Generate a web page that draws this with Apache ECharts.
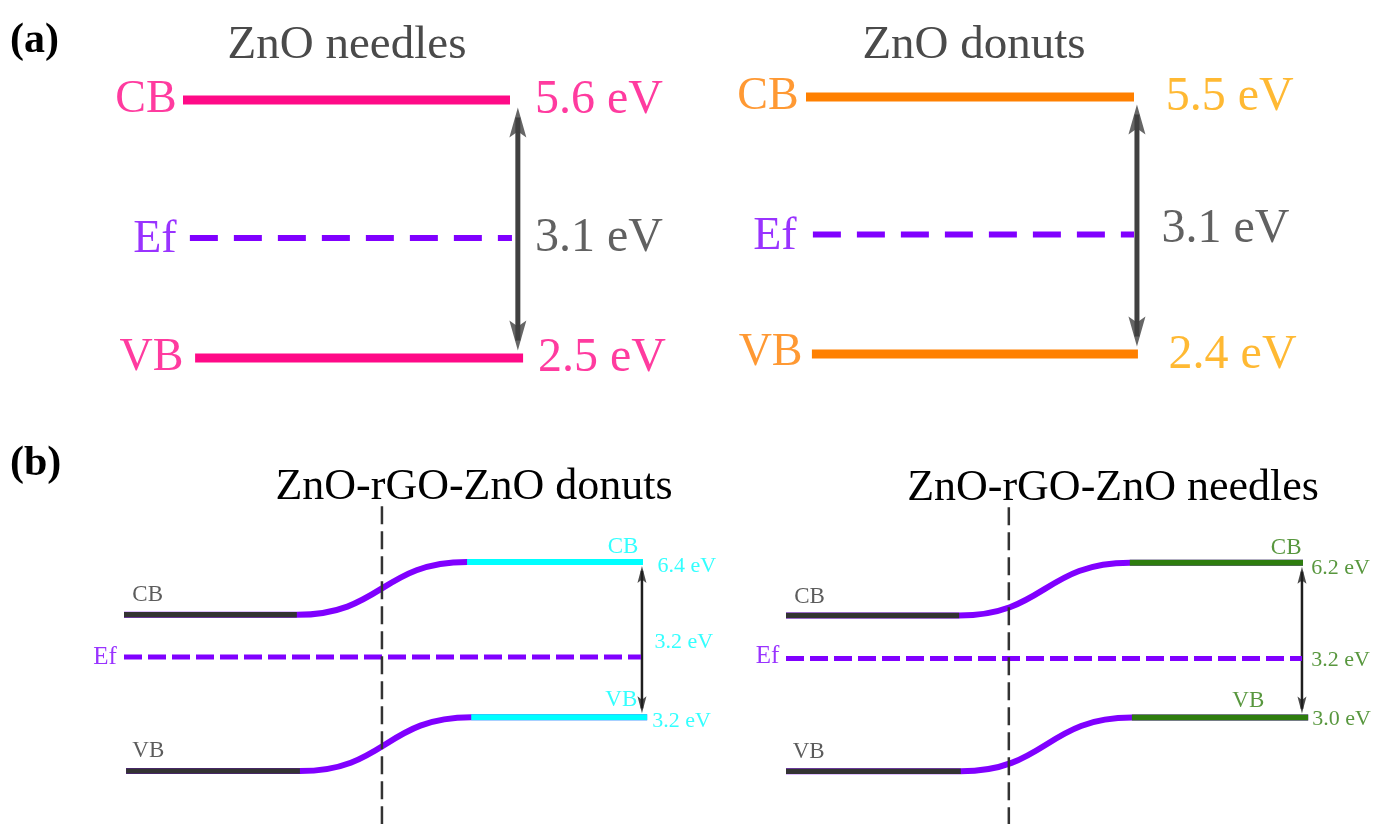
<!DOCTYPE html>
<html><head><meta charset="utf-8">
<script src="https://cdn.jsdelivr.net/npm/echarts@6/dist/echarts.min.js"></script>
<style>html,body{margin:0;padding:0;background:#fff}#c{width:1376px;height:824px}</style>
</head><body><div id="c"></div>
<script>
// ---------------- data (energies in eV) ----------------
const panelTags   = ['(a)', '(b)'];
const panelTitles = ['ZnO needles', 'ZnO donuts', 'ZnO-rGO-ZnO donuts', 'ZnO-rGO-ZnO needles'];
const levelNames  = ['CB', 'Ef', 'VB'];
const cbLevels    = [5.6, 5.5, 6.4, 6.2];      // conduction band edge (ZnO side)
const vbLevels    = [2.5, 2.4, 3.2, 3.0];      // valence band edge
const gapValues   = [3.1, 3.1, 3.2, 3.2];      // band gap shown by the arrow
const efLevels    = [3.94, 3.84, 4.44, 4.22];  // Fermi level as drawn (estimated)
const junctionCB  = [5.31, 5.11];              // (b) CB on the left of the junction (estimated)
const junctionVB  = [2.09, 1.89];              // (b) VB on the left of the junction (estimated)

// ---------------- layout / style ----------------
const SERIF = '"Liberation Serif", "Times New Roman", serif';
const COL = { pink:'#ff0a87', purple:'#8000ff', orange:'#ff8000', gold:'#ffa800',
              cyan:'#00ffff', green:'#2e7d0e', dark:'#333333', arrowA:'#404040',
              arrowB:'#1e1e1e', gapText:'#3a3a3a', title:'#4a4a4a' };
const HEAD = 'path://M0,0L1,3L0,2.4L-1,3Z';
const XR = [-10, 110];                        // common horizontal position scale (a.u.)
const fmt = v => v.toFixed(1) + ' eV';

// plot box of each panel: origin = pixel where x=0, u = pixels per unit, y-range mapped to [top, top+height]
const panels = [
  { box:{origin:183, u:3.27, top:66.72, height:332.8}, y:[2, 6], band:COL.pink, val:COL.pink,
    cb:[0,100], ef:[2.1,100.6], vb:[3.7,104], arrowX:102.4,
    nameX:[-1.8,-1.8,0.3], nameDy:[0,2,0], valX:[107.5,107.5,108.4], valDy:[0,0,0] },
  { box:{origin:806, u:3.28, top:63.84, height:331.6}, y:[1.9, 5.9], band:COL.orange, val:COL.gold,
    cb:[0,100], ef:[2.1,100], vb:[1.8,101.2], arrowX:100.9,
    nameX:[-2.1,-2.7,-0.9], nameDy:[0,2,-1], valX:[109.5,108.2,110.4], valDy:[0,-5,1] },
  { box:{origin:124, u:5.19, top:503.75, height:325.875}, y:[1, 7.6], band:COL.cyan, val:COL.cyan,
    cbL:[0,33.3], cbR:[66.1,100], vbL:[0.4,33.9], vbR:[66.9,100.8], ef:[0,99.6], arrowX:99.8,
    divX:49.7, divY:[7.55, 1],
    leftNameX:[1.5,1.5], leftNameDy:[-20,-20.5], rightNameX:[99.2,99.0], rightNameDy:[-15.5,-17],
    efNameX:-1.3, efNameDy:0, valX:[102.7,102.1,101.7], valDy:[4,-15,4] },
  { box:{origin:786, u:5.17, top:504.75, height:325.875}, y:[0.8, 7.4], band:COL.green, val:COL.green,
    cbL:[0,33.5], cbR:[66.5,100], vbL:[0,33.8], vbR:[66.9,101], ef:[0,99.8], arrowX:99.8,
    divX:43.1, divY:[7.35, 0.8],
    leftNameX:[1.5,1.2], leftNameDy:[-19,-19.5], rightNameX:[99.8,92.6], rightNameDy:[-15,-17],
    efNameX:-1.2, efNameDy:-2, valX:[101.5,101.5,101.7], valDy:[5,2,2] }
];

const grids = [], xAxes = [], yAxes = [], series = [];
panels.forEach((p, i) => {
  const b = p.box;
  grids.push({ left:b.origin + XR[0] * b.u, width:(XR[1] - XR[0]) * b.u, top:b.top, height:b.height, containLabel:false });
  xAxes.push({type:'value', gridIndex:i, min:XR[0], max:XR[1], show:false});
  yAxes.push({type:'value', gridIndex:i, min:p.y[0], max:p.y[1], show:false});
});
const pxPerEv = p => p.box.height / (p.y[1] - p.y[0]);

function seg(i, xs, y, color, width, type, z) {
  return { type:'line', xAxisIndex:i, yAxisIndex:i, data:[[xs[0], y], [xs[1], y]],
           symbol:'none', clip:false, silent:true, animation:false, z:z || 3,
           lineStyle:{color:color, width:width, type:type || 'solid', cap:'butt'} };
}
function vline(i, x, yTop, yBot, color, width, type, z) {
  return { type:'line', xAxisIndex:i, yAxisIndex:i, data:[[x, yTop], [x, yBot]],
           symbol:'none', clip:false, silent:true, animation:false, z:z,
           lineStyle:{color:color, width:width, type:type || 'solid', cap:'butt'} };
}
function labelSeries(i, items) {
  return { type:'scatter', xAxisIndex:i, yAxisIndex:i, symbolSize:1, clip:false, silent:true,
           animation:false, z:10, itemStyle:{color:'rgba(0,0,0,0)'},
           data: items.map(t => ({ value:[t.x, t.y],
             label:{ show:true, formatter:t.text, position:t.pos, distance:0, offset:[0, t.dy || 0],
                     color:t.color, fontSize:t.size, fontFamily:SERIF } })) };
}
// double-headed gap arrow: heads whose tips sit just inside the band lines, shaft hidden inside the heads
function gapArrow(i, x, top, bottom, color, width, head, edge, tuck) {
  const d = head[1] / 2 + edge;
  const e = (edge + tuck) / pxPerEv(panels[i]);
  return [
    vline(i, x, top - e, bottom + e, color, width, 'solid', 1),
    { type:'scatter', xAxisIndex:i, yAxisIndex:i, clip:false, silent:true, animation:false, z:4,
      symbol:HEAD, symbolSize:head, itemStyle:{color:color},
      data:[ {value:[x, top], symbolRotate:0, symbolOffset:[0, d]},
             {value:[x, bottom], symbolRotate:180, symbolOffset:[0, -d]} ] }
  ];
}

// ---- panel (a): isolated ZnO ----
[0, 1].forEach(i => {
  const p = panels[i];
  series.push(seg(i, p.cb, cbLevels[i], p.band, 9, 'solid', 3));
  series.push(seg(i, p.vb, vbLevels[i], p.band, 9, 'solid', 3));
  series.push(seg(i, p.ef, efLevels[i], COL.purple, 6, [28, 16], 2));
  series.push(...gapArrow(i, p.arrowX, cbLevels[i], vbLevels[i], COL.arrowA, 5, [17, 30], 7.5, 10));
  const lv = [cbLevels[i], efLevels[i], vbLevels[i]];
  const nameCol = [p.band, COL.purple, p.band];
  const items = [];
  levelNames.forEach((n, k) => items.push({x:p.nameX[k], y:lv[k], text:n, pos:'left', dy:p.nameDy[k], color:nameCol[k], size:46}));
  const vals = [fmt(cbLevels[i]), fmt(gapValues[i]), fmt(vbLevels[i])];
  const valCol = [p.val, COL.gapText, p.val];
  vals.forEach((t, k) => items.push({x:p.valX[k], y:lv[k], text:t, pos:'right', dy:p.valDy[k], color:valCol[k], size:48}));
  series.push(labelSeries(i, items));
});

// ---- panel (b): ZnO-rGO-ZnO junctions ----
[2, 3].forEach(i => {
  const p = panels[i], j = i - 2;
  const bend = (xl, xr, yl, yr) => ({ type:'line', xAxisIndex:i, yAxisIndex:i,
      data:[[xl[0], yl], [xl[1], yl], [xr[0], yr], [xr[1], yr]],
      smooth:0.5, smoothMonotone:'x', symbol:'none', clip:false, silent:true, animation:false, z:2,
      lineStyle:{color:COL.purple, width:6, cap:'butt'} });
  series.push(bend(p.cbL, p.cbR, junctionCB[j], cbLevels[i]));
  series.push(bend(p.vbL, p.vbR, junctionVB[j], vbLevels[i]));
  series.push(seg(i, p.cbL, junctionCB[j], COL.dark, 5.5));
  series.push(seg(i, p.vbL, junctionVB[j], COL.dark, 5.5));
  series.push(seg(i, p.cbR, cbLevels[i], p.band, 6));
  series.push(seg(i, p.vbR, vbLevels[i], p.band, 6));
  series.push(seg(i, p.ef, efLevels[i], COL.purple, 5, [18, 6], 2));
  series.push(...gapArrow(i, p.arrowX, cbLevels[i], vbLevels[i], COL.arrowB, 2.5, [9, 17], 4, 5));
  // interface divider
  series.push(vline(i, p.divX, p.divY[0], p.divY[1], '#333', 2.5, [18, 7], 20));
  const items = [
    {x:p.leftNameX[0], y:junctionCB[j], text:levelNames[0], pos:'right', dy:p.leftNameDy[0], color:COL.dark, size:23},
    {x:p.leftNameX[1], y:junctionVB[j], text:levelNames[2], pos:'right', dy:p.leftNameDy[1], color:COL.dark, size:23},
    {x:p.rightNameX[0], y:cbLevels[i], text:levelNames[0], pos:'left', dy:p.rightNameDy[0], color:p.band, size:23},
    {x:p.rightNameX[1], y:vbLevels[i], text:levelNames[2], pos:'left', dy:p.rightNameDy[1], color:p.band, size:23},
    {x:p.efNameX, y:efLevels[i], text:levelNames[1], pos:'left', dy:p.efNameDy, color:COL.purple, size:25},
    {x:p.valX[0], y:cbLevels[i], text:fmt(cbLevels[i]), pos:'right', dy:p.valDy[0], color:p.val, size:22},
    {x:p.valX[1], y:efLevels[i], text:fmt(gapValues[i]), pos:'right', dy:p.valDy[1], color:p.val, size:22},
    {x:p.valX[2], y:vbLevels[i], text:fmt(vbLevels[i]), pos:'right', dy:p.valDy[2], color:p.val, size:22}
  ];
  series.push(labelSeries(i, items));
});

// ---- titles ----
function txt(text, x, y, size, color, weight, align) {
  return { type:'text', x:x, y:y, silent:true, z:30,
    style:{ text:text, font:(weight || 'normal') + ' ' + size + 'px ' + SERIF, fill:color,
            align:align || 'left', verticalAlign:'middle', textAlign:align || 'left', textVerticalAlign:'middle' } };
}
const graphic = [
  txt(panelTags[0], 10, 41, 42, '#000', 'bold'),
  txt(panelTags[1], 10, 464, 42, '#000', 'bold'),
  txt(panelTitles[0], 347, 46, 47, COL.title, 'normal', 'center'),
  txt(panelTitles[1], 974, 46, 47, COL.title, 'normal', 'center'),
  txt(panelTitles[2], 474, 487, 44, '#000', 'normal', 'center'),
  txt(panelTitles[3], 1113, 488, 44, '#000', 'normal', 'center')
];

const chart = echarts.init(document.getElementById('c'), null, {renderer:'canvas'});
chart.setOption({ animation:false, backgroundColor:'#fff', grid:grids, xAxis:xAxes, yAxis:yAxes,
                  series:series, graphic:graphic });
</script></body></html>
